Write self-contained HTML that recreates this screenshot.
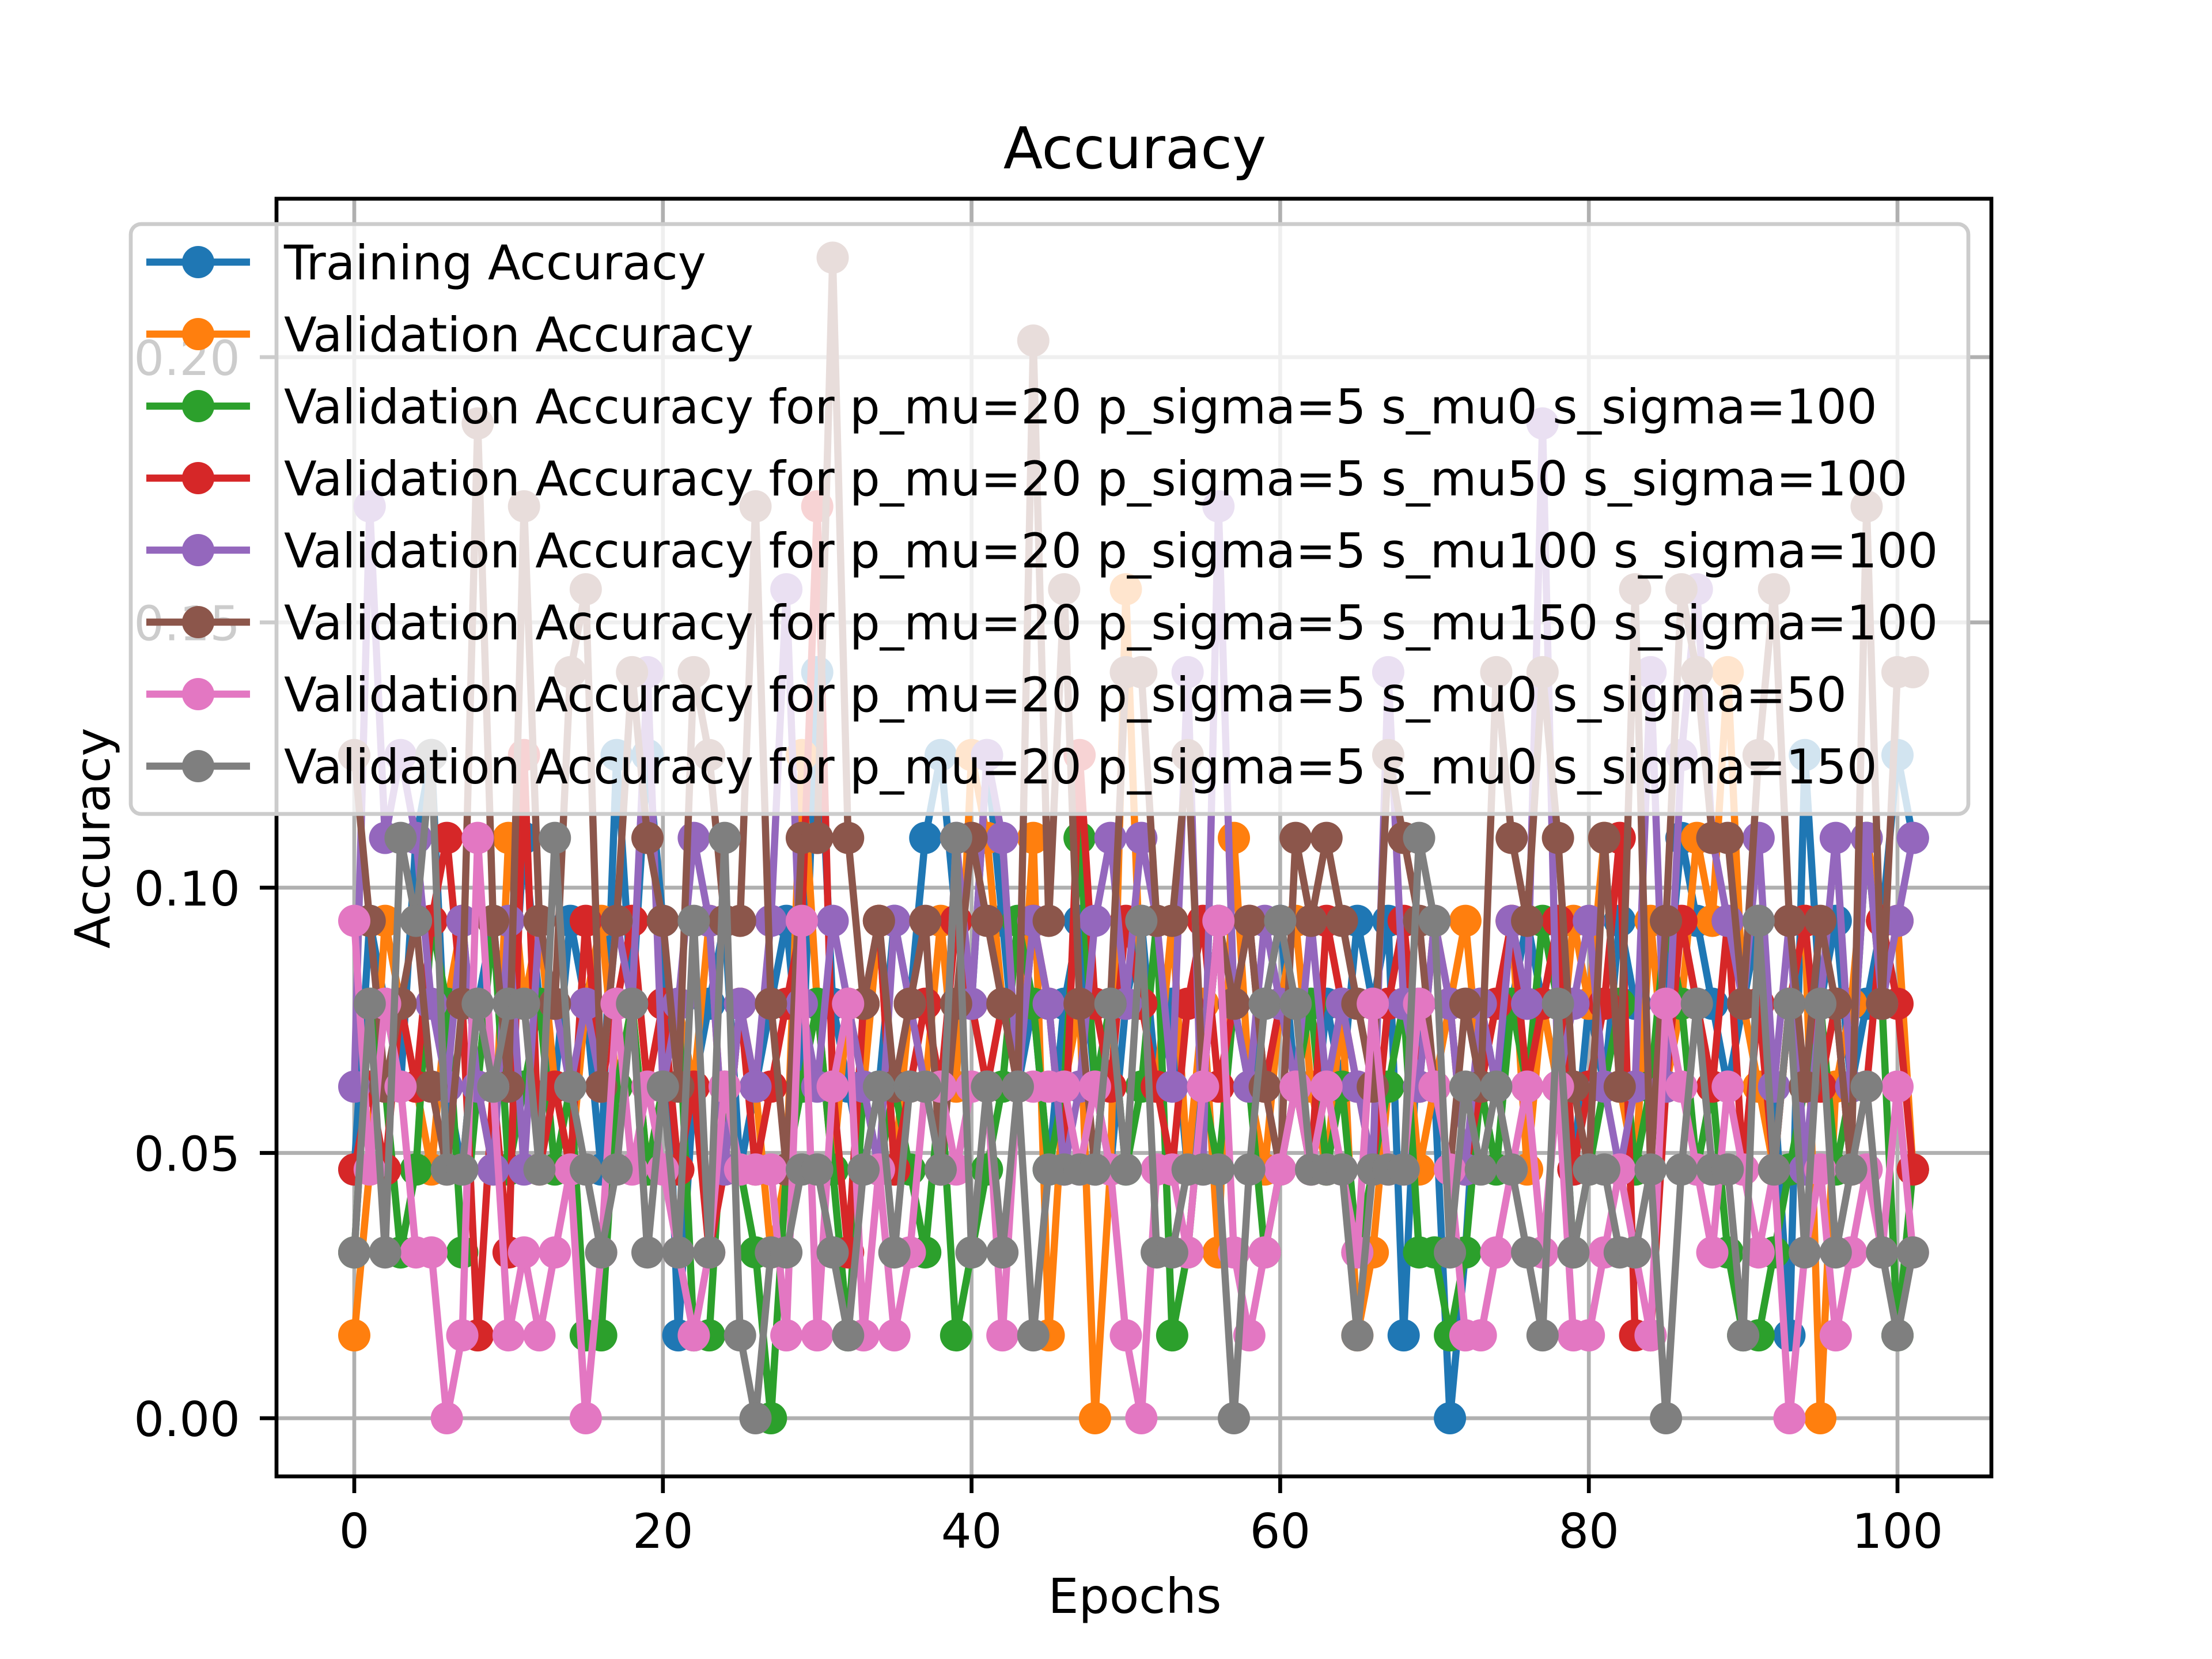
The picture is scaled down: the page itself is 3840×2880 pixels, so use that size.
<!DOCTYPE html>
<html><head><meta charset="utf-8"><style>html,body{margin:0;padding:0;background:#fff}svg{display:block}text{font-family:"DejaVu Sans","Liberation Sans",sans-serif}</style></head>
<body>
<svg id="chart" width="3840" height="2880" viewBox="0 0 3840 2880" xmlns="http://www.w3.org/2000/svg">
<rect width="3840" height="2880" fill="#fff"/>
<g id="grid"></g><g id="series"></g><g id="axes"></g><g id="legend"></g>
</svg>
<script>
// values are correct samples out of 64 (accuracy = hits / 64)
const trainHits=[3,6,5,4,7,8,4,3,5,6,4,7,5,4,6,5,3,8,5,8,6,1,4,5,6,3,4,5,6,4,9,5,4,3,4,6,5,7,8,6,5,8,6,4,5,3,5,6,4,3,5,6,4,5,3,4,6,5,4,5,6,4,3,5,4,6,5,6,1,5,4,0,2,5,4,5,6,5,4,3,5,4,6,5,4,5,7,6,5,4,5,6,4,1,8,5,6,4,5,6,8,7];
const valHits=[1,3,6,5,4,3,5,6,4,3,7,5,6,4,3,5,6,4,5,3,4,5,4,6,3,5,4,2,3,8,5,3,5,4,6,3,5,4,6,4,8,7,5,4,7,1,4,5,0,3,10,5,4,6,3,5,2,7,4,3,5,6,4,3,5,1,2,4,5,3,4,5,6,4,5,6,3,5,4,6,5,7,4,3,6,4,5,7,6,9,5,4,3,5,6,0,4,5,7,6,6,3];
const mu0s100=[2,5,4,2,3,6,5,2,4,6,3,4,5,3,4,1,1,4,5,3,4,5,1,1,4,3,2,0,3,4,5,3,1,4,3,4,3,2,4,1,2,3,4,6,5,3,4,7,4,5,3,4,6,1,2,4,3,5,4,2,3,4,5,3,4,2,3,4,5,2,2,1,2,4,3,5,4,6,5,2,3,4,5,3,4,6,5,3,4,2,1,1,2,3,4,5,3,4,7,5,1,3];
const mu50s100=[3,4,3,5,4,6,7,5,1,4,2,8,3,4,3,6,4,5,6,4,5,3,4,2,3,5,3,4,5,6,11,4,2,5,6,3,4,5,4,6,5,4,5,4,6,5,3,8,5,4,6,5,4,3,5,6,4,5,6,4,5,4,3,6,5,4,3,5,6,4,6,5,3,4,5,6,4,5,6,3,4,5,7,1,1,4,6,5,4,6,3,5,3,5,6,4,5,3,4,6,5,3];
const mu100s100=[4,11,7,8,7,5,4,6,4,3,6,3,6,5,4,5,4,6,5,9,4,5,7,6,3,5,4,6,10,5,4,6,5,4,3,6,5,4,3,7,5,8,7,4,6,5,3,4,6,7,5,7,6,4,9,3,11,5,4,6,5,4,6,4,5,4,3,9,5,4,6,5,3,5,4,6,5,12,4,5,6,4,3,4,9,4,8,10,7,6,5,7,4,6,3,5,7,4,7,5,6,7];
const mu150s100=[8,6,4,5,6,4,3,5,12,6,4,11,6,5,9,10,4,6,9,7,6,4,9,8,6,6,11,5,3,7,7,14,7,5,6,4,5,6,3,5,7,6,5,4,13,6,10,5,3,5,9,9,6,6,8,4,6,5,6,4,3,7,6,7,6,5,4,8,7,6,4,3,5,4,9,7,6,9,7,4,3,7,4,10,3,6,10,9,7,7,5,8,10,6,4,6,5,3,11,5,9,9];
const mu0s50=[6,3,5,4,2,2,0,1,7,4,1,2,1,2,3,0,2,5,3,4,3,2,1,2,4,3,3,3,1,6,1,4,5,1,3,1,2,4,4,3,4,4,1,4,4,4,4,3,4,3,1,0,3,3,2,4,6,2,1,2,3,4,3,4,3,2,5,3,3,5,4,3,1,1,2,3,4,2,4,1,1,2,3,2,1,5,4,3,2,4,3,2,3,0,2,3,1,2,3,2,4,2];
const mu0s150=[2,5,2,7,6,8,3,3,5,4,5,5,3,7,4,3,2,3,5,2,4,2,6,2,7,1,0,2,2,3,3,2,1,3,4,2,4,4,3,7,2,4,2,4,1,3,3,3,3,5,3,6,2,2,3,3,3,0,3,5,6,5,3,3,3,1,3,3,3,7,6,2,4,3,4,3,2,1,5,2,3,3,2,2,3,0,3,5,3,3,1,6,3,5,2,5,2,3,4,2,1,2];
const seriesNames=["Training Accuracy","Validation Accuracy","Validation Accuracy for p_mu=20 p_sigma=5 s_mu0 s_sigma=100","Validation Accuracy for p_mu=20 p_sigma=5 s_mu50 s_sigma=100","Validation Accuracy for p_mu=20 p_sigma=5 s_mu100 s_sigma=100","Validation Accuracy for p_mu=20 p_sigma=5 s_mu150 s_sigma=100","Validation Accuracy for p_mu=20 p_sigma=5 s_mu0 s_sigma=50","Validation Accuracy for p_mu=20 p_sigma=5 s_mu0 s_sigma=150"];
const xTicks=[0,20,40,60,80,100];
const yTicks=[0,0.05,0.10,0.15,0.20];
const yTickLabels=["0.00","0.05","0.10","0.15","0.20"];
const colors=["#1f77b4","#ff7f0e","#2ca02c","#d62728","#9467bd","#8c564b","#e377c2","#7f7f7f"];
const allData=[trainHits,valHits,mu0s100,mu50s100,mu100s100,mu150s100,mu0s50,mu0s150];
const NS="http://www.w3.org/2000/svg";
const L=480,R=3457,T=345,B=2563;
const xs=v=>615+v*26.79;
const ys=v=>2462-v*9210;
function mk(tag,attrs,parent,txt){const e=document.createElementNS(NS,tag);for(const k in attrs)e.setAttribute(k,attrs[k]);if(txt!==undefined)e.textContent=txt;parent.appendChild(e);return e;}
const grid=document.getElementById('grid'),ser=document.getElementById('series'),ax=document.getElementById('axes'),leg=document.getElementById('legend');
xTicks.forEach(t=>{const g=mk('line',{x1:xs(t),x2:xs(t),y1:T,y2:B,stroke:'#b0b0b0','stroke-width':6.7},grid);


mk('line',{x1:xs(t),x2:xs(t),y1:B,y2:B+29,stroke:'#000','stroke-width':6.7},ax);
const lb=mk('text',{x:xs(t),y:2687,'font-size':83,'text-anchor':'middle'},ax,String(t));

});
yTicks.forEach((t,i)=>{const g=mk('line',{x1:L,x2:R,y1:ys(t),y2:ys(t),stroke:'#b0b0b0','stroke-width':6.7},grid);


mk('line',{x1:L-29,x2:L,y1:ys(t),y2:ys(t),stroke:'#000','stroke-width':6.7},ax);
const lb=mk('text',{x:417,y:ys(t)+31,'font-size':83,'text-anchor':'end'},ax,yTickLabels[i]);

});
allData.forEach((d,si)=>{const g=mk('g',{},ser);


const pts=d.map((h,i)=>xs(i)+','+ys(h/64)).join(' ');
const pl=mk('polyline',{points:pts,fill:'none',stroke:colors[si],'stroke-width':12.5,'stroke-linejoin':'round'},g);


d.forEach((h,i)=>{const c=mk('circle',{cx:xs(i),cy:ys(h/64),r:28,fill:colors[si]},g);

});});
const frame=mk('rect',{x:L,y:T,width:R-L,height:B-T,fill:'none',stroke:'#000','stroke-width':6.7},ax);


const title=mk('text',{x:1970,y:292,'font-size':100,'text-anchor':'middle'},ax,'Accuracy');


const xl=mk('text',{x:1970,y:2800,'font-size':84,'text-anchor':'middle'},ax,'Epochs');


const yl=mk('text',{x:0,y:0,'font-size':84,'text-anchor':'middle',transform:'translate(190,1455) rotate(-90)'},ax,'Accuracy');


const box=mk('rect',{x:227,y:389,width:3190,height:1024,rx:18,fill:'#fff','fill-opacity':0.8,stroke:'#cccccc','stroke-width':6.7},leg);


seriesNames.forEach((n,i)=>{const y=455+i*125;const g=mk('g',{},leg);


mk('line',{x1:254,x2:434,y1:y,y2:y,stroke:colors[i],'stroke-width':12.5},g);
mk('circle',{cx:344,cy:y,r:28,fill:colors[i]},g);
mk('text',{x:493,y:y+30,'font-size':83},g,n);});
</script>
</body></html>
